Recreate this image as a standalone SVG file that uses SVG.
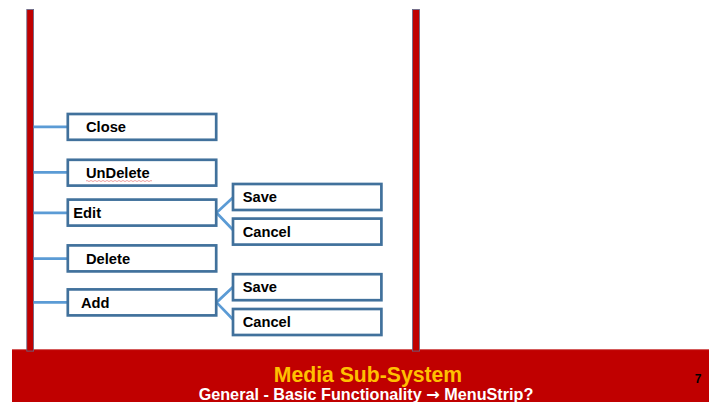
<svg xmlns="http://www.w3.org/2000/svg" width="709" height="402" viewBox="0 0 709 402">
<style>
.box{fill:#fff;stroke:#41719C;stroke-width:2.7}
.lbl{font-family:"Liberation Sans",Arial,sans-serif;font-weight:bold;font-size:14.7px;fill:#000}
.con{stroke:#5B9BD5;stroke-width:2.7;fill:none}
.bar{fill:#C00000;stroke:#5F6B8C;stroke-width:0.8}
</style>
<rect width="709" height="402" fill="#fff"/>
<g id="footer">
<rect x="12" y="349.3" width="697" height="53" fill="#C00000"/>
<line x1="12" y1="349.6" x2="709" y2="349.6" stroke="#D46A6A" stroke-width="0.6"/>
<text x="368" y="382.3" text-anchor="middle" font-family="Liberation Sans,Arial,sans-serif" font-weight="bold" font-size="21.2" fill="#FFC000">Media Sub-System</text>
<text x="366" y="399.8" text-anchor="middle" font-family="Liberation Sans,Arial,sans-serif" font-weight="bold" font-size="16.2" fill="#fff">General - Basic Functionality <tspan font-family="DejaVu Sans,sans-serif">→</tspan> MenuStrip?</text>
<text x="698" y="383" text-anchor="middle" font-family="Liberation Sans,Arial,sans-serif" font-weight="bold" font-size="12" fill="#000">7</text>
</g>
<g id="bars">
<rect class="bar" x="26.8" y="9.5" width="6.8" height="341.6"/>
<rect class="bar" x="412.5" y="9.5" width="7" height="341.6"/>
</g>
<g id="connectors">
<line class="con" x1="33.6" y1="126.8" x2="68" y2="126.8"/>
<line class="con" x1="33.6" y1="172.4" x2="68" y2="172.4"/>
<line class="con" x1="33.6" y1="212.8" x2="68" y2="212.8"/>
<line class="con" x1="33.6" y1="258.6" x2="68" y2="258.6"/>
<line class="con" x1="33.6" y1="302.4" x2="68" y2="302.4"/>
<polyline class="con" points="233.5,197 216.5,212.8 233.5,230.5"/>
<polyline class="con" points="233.5,286.5 216.5,302.4 233.5,320"/>
</g>
<g id="close"><rect class="box" x="67.8" y="114" width="148.4" height="25.8"/><text class="lbl" x="86" y="131.8">Close</text></g>
<g id="undelete"><rect class="box" x="67.8" y="159.8" width="148.4" height="25.8"/><text class="lbl" x="86" y="178">UnDelete</text>
<path d="M86,181 q1,-1 2,0 t2,0 t2,0 t2,0 t2,0 t2,0 t2,0 t2,0 t2,0 t2,0 t2,0 t2,0 t2,0 t2,0 t2,0 t2,0 t2,0 t2,0 t2,0 t2,0 t2,0 t2,0 t2,0 t2,0 t2,0 t2,0 t2,0 t2,0 t2,0 t2,0 t2,0 t2,0 t2,0" fill="none" stroke="#E06060" stroke-width="0.6"/></g>
<g id="edit"><rect class="box" x="67.8" y="199.6" width="148.4" height="26"/><text class="lbl" x="73.3" y="218.3">Edit</text></g>
<g id="delete"><rect class="box" x="67.8" y="245.4" width="148.4" height="26"/><text class="lbl" x="86" y="263.5">Delete</text></g>
<g id="add"><rect class="box" x="67.8" y="289.4" width="148.4" height="26"/><text class="lbl" x="81" y="307.8">Add</text></g>
<g id="edit-save"><rect class="box" x="233" y="184" width="148.4" height="26"/><text class="lbl" x="242.7" y="202.3">Save</text></g>
<g id="edit-cancel"><rect class="box" x="233" y="218.6" width="148.4" height="26"/><text class="lbl" x="242.7" y="236.8">Cancel</text></g>
<g id="add-save"><rect class="box" x="233" y="274.2" width="148.4" height="26"/><text class="lbl" x="242.7" y="292.3">Save</text></g>
<g id="add-cancel"><rect class="box" x="233" y="309" width="148.4" height="26"/><text class="lbl" x="242.7" y="326.8">Cancel</text></g>
</svg>
